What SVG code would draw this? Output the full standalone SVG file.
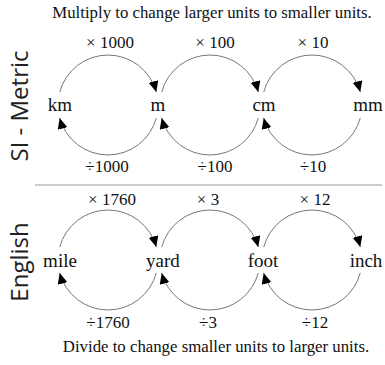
<svg xmlns="http://www.w3.org/2000/svg" width="385" height="365" viewBox="0 0 385 365">
<style>
.t{font-family:"Liberation Serif","Times New Roman",serif;fill:#111}
.title{font-size:16.8px}
.unit{font-size:19px;text-anchor:middle}
.f{font-size:17px;text-anchor:middle}
.side{font-family:"Open Sans","DejaVu Sans",sans-serif;font-size:24px;fill:#222;text-anchor:middle}
.arc{fill:none;stroke:#777;stroke-width:1}
</style>
<defs>
<marker id="ah" markerUnits="userSpaceOnUse" markerWidth="13" markerHeight="11" refX="11" refY="5" orient="auto">
<path d="M0,0 L11,5 L0,10 z" fill="#000"/>
</marker>
</defs>
<rect width="385" height="365" fill="#fff"/>
<text class="t title" x="212" y="18" text-anchor="middle">Multiply to change larger units to smaller units.</text>
<text class="t title" x="216" y="352" text-anchor="middle">Divide to change smaller units to larger units.</text>
<text class="side" transform="translate(28,106) rotate(-90)">SI - Metric</text>
<text class="side" transform="translate(28,262) rotate(-90)">English</text>
<line x1="35" y1="185" x2="382" y2="185" stroke="#999" stroke-width="1"/>
<g id="connectors">
<path class="arc" marker-end="url(#ah)" d="M59.7,92.1 A50,50 0 0 1 156.3,92.1"/>
<path class="arc" marker-end="url(#ah)" d="M161.7,92.1 A50,50 0 0 1 258.3,92.1"/>
<path class="arc" marker-end="url(#ah)" d="M263.7,92.1 A50,50 0 0 1 360.3,92.1"/>
<path class="arc" marker-end="url(#ah)" d="M156.3,117.9 A50,50 0 0 1 59.7,117.9"/>
<path class="arc" marker-end="url(#ah)" d="M258.3,117.9 A50,50 0 0 1 161.7,117.9"/>
<path class="arc" marker-end="url(#ah)" d="M360.3,117.9 A50,50 0 0 1 263.7,117.9"/>
<path class="arc" marker-end="url(#ah)" d="M59.7,247.1 A50,50 0 0 1 156.3,247.1"/>
<path class="arc" marker-end="url(#ah)" d="M161.7,247.1 A50,50 0 0 1 258.3,247.1"/>
<path class="arc" marker-end="url(#ah)" d="M263.7,247.1 A50,50 0 0 1 360.3,247.1"/>
<path class="arc" marker-end="url(#ah)" d="M156.3,272.9 A50,50 0 0 1 59.7,272.9"/>
<path class="arc" marker-end="url(#ah)" d="M258.3,272.9 A50,50 0 0 1 161.7,272.9"/>
<path class="arc" marker-end="url(#ah)" d="M360.3,272.9 A50,50 0 0 1 263.7,272.9"/>
</g>
<g id="labels">
<text class="t f" x="110" y="48">× 1000</text>
<text class="t f" x="215" y="48">× 100</text>
<text class="t f" x="313" y="48">× 10</text>
<text class="t f" x="107" y="172">÷1000</text>
<text class="t f" x="215" y="172">÷100</text>
<text class="t f" x="313" y="172">÷10</text>
<text class="t f" x="112" y="205">× 1760</text>
<text class="t f" x="208" y="205">× 3</text>
<text class="t f" x="315" y="205">× 12</text>
<text class="t f" x="108" y="328">÷1760</text>
<text class="t f" x="208" y="328">÷3</text>
<text class="t f" x="315" y="328">÷12</text>
</g>
<g id="km"><text class="t unit" x="60" y="111">km</text></g>
<g id="m"><text class="t unit" x="158" y="111">m</text></g>
<g id="cm"><text class="t unit" x="264" y="111">cm</text></g>
<g id="mm"><text class="t unit" x="368" y="111">mm</text></g>
<g id="mile"><text class="t unit" x="60" y="267">mile</text></g>
<g id="yard"><text class="t unit" x="163" y="267">yard</text></g>
<g id="foot"><text class="t unit" x="263" y="267">foot</text></g>
<g id="inch"><text class="t unit" x="366" y="267">inch</text></g>
</svg>
